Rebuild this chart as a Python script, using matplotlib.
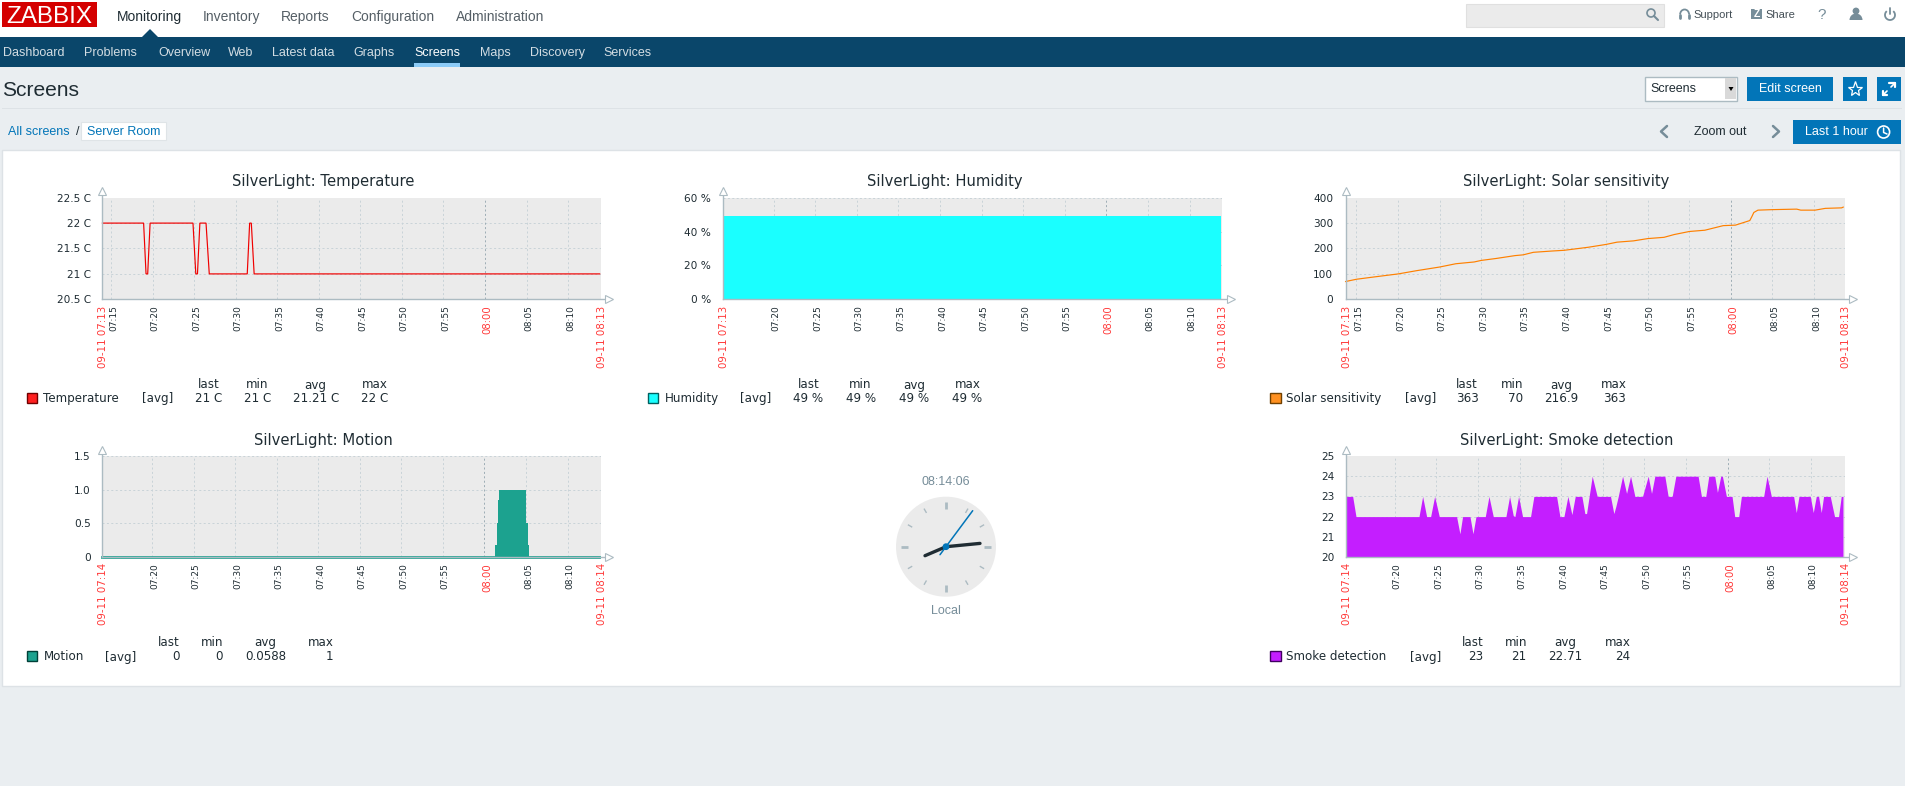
#!/usr/bin/env python
"""Zabbix 'Server Room' screen: page chrome drawn in pixel coords, five graphs + clock."""
import numpy as np
import matplotlib; matplotlib.use('Agg'); import matplotlib.pyplot as plt
from matplotlib.patches import Rectangle, Circle, Polygon, Arc, Wedge

W, H = 1906, 786
UI = 'Liberation Sans'
NAVY, BLUE, BG, GREY, INK = '#0A466A', '#0275B8', '#EAEEF1', '#768D99', '#1F2C33'
AXC, GRIDC, GRID8, PLOTBG, RED = '#ACBBC2', '#C9D3D8', '#9FAEB6', '#EBEBEB', '#FF3A3A'

top_menu = ['Monitoring', 'Inventory', 'Reports', 'Configuration', 'Administration']
top_x = [117, 203, 281, 351, 456]
sub_menu = ['Dashboard', 'Problems', 'Overview', 'Web', 'Latest data', 'Graphs', 'Screens', 'Maps', 'Discovery', 'Services']
sub_x = [2.7, 84, 158, 228, 272, 353.6, 414, 480, 530, 603]

# series: x is elapsed minutes since the left edge of each graph
temp_t = [0, 4.96, 5.25, 5.45, 5.74, 10.9, 11.24, 11.44, 11.73, 12.47, 12.86, 17.43, 17.72, 17.92, 18.26, 59.84]
temp_v = [22, 22, 21, 21, 22, 22, 21, 21, 22, 22, 21, 21, 22, 22, 21, 21]
hum_t = [0, 59.8]
hum_v = [49.3, 49.3]
solar_t = [0, 1.32, 3.19, 6.33, 8.59, 11.29, 13.25, 15.46, 16.29, 18.15, 20.36, 21.34, 22.57, 24.78, 26.3, 29.19, 31.3,
           32.63, 34.6, 36.31, 38.27, 39.5, 41.32, 43.18, 45.39, 46.86, 48.58, 48.82, 49.07, 49.56, 51.28, 54.22, 54.71,
           56.43, 57.65, 59.62, 59.81]
solar_v = [70, 79, 87, 100, 113, 127, 140, 147, 153, 161, 172, 175, 185, 190, 193, 205, 216,
           225, 230, 239, 244, 255, 267, 272, 290, 292, 310, 325, 342, 351, 353, 355, 351,
           351, 358, 360, 363]
motion_t = [0, 47.3, 47.45, 47.55, 47.7, 50.93, 51.03, 51.18, 51.28, 59.81]
motion_v = [0, 0.18, 0.5, 0.84, 1, 0.84, 0.5, 0.18, 0, 0]
smoke_t = [0, 0.85, 1.25, 8.82, 9.26, 9.74, 10.22, 10.7, 11.26, 13.34, 13.74, 14.06, 14.95, 15.31, 15.67, 16.79, 17.23,
           17.75, 19.27, 19.71, 20.15, 20.35, 20.79, 21.27, 22.23, 22.63, 25.36, 25.76, 26.24, 26.72, 27.2, 27.6, 28.4,
           28.76, 28.96, 29.64, 30.24, 31.84, 32.24, 32.48, 32.77, 33.29, 33.77, 34.25, 34.77, 35.69, 36.37, 36.77,
           37.17, 38.37, 38.77, 39.25, 39.69, 42.37, 42.77, 43.29, 43.65, 44.37, 44.69, 45.09, 45.29, 45.77, 46.45,
           46.77, 47.25, 47.57, 50.25, 50.65, 51.17, 53.85, 54.17, 54.49, 55.85, 56.21, 56.57, 56.85, 57.17, 57.45,
           58.25, 58.77, 59.25, 59.57, 59.78]
smoke_v = [23, 23, 22, 22, 23, 22, 22, 23, 22, 22, 21.15, 22, 22, 21.15, 22, 22, 23,
           22, 22, 23, 22.05, 22, 23, 22, 22, 23, 23, 22, 22, 23, 22.1, 23, 23,
           22.15, 22.15, 24, 23, 23, 22.15, 22.5, 23, 24, 23.15, 24, 23, 23, 24, 23.15,
           24, 24, 23, 23, 24, 24, 23, 23, 24, 24, 23.2, 24, 24, 23, 23,
           22, 22, 23, 23, 24, 23, 23, 22.2, 23, 23, 22.2, 23, 23, 22.2, 23,
           23, 22, 22, 23, 23]

clock_ticks = list(range(12))

fig = plt.figure(figsize=(W/100, H/100), dpi=100, facecolor=BG)
bg = fig.add_axes([0, 0, 1, 1]); bg.set_xlim(0, W); bg.set_ylim(H, 0); bg.axis('off')

def box(x0, y0, x1, y1, fc, ec='none', lw=0.8, z=1):
    bg.add_patch(Rectangle((x0, y0), x1-x0, y1-y0, fc=fc, ec=ec, lw=lw, zorder=z))
def txt(x, y, s, size=9, color=INK, family=UI, ha='left', **kw):
    bg.text(x, y+1, s, fontsize=size, color=color, family=family, ha=ha, va='center', zorder=5, **kw)
def seg(xs, ys, color=GREY, lw=1.2, z=5, **kw):
    bg.plot(xs, ys, color=color, lw=lw, zorder=z, solid_capstyle=kw.pop('cap', 'round'), **kw)

# header + nav
box(0, 0, W, 37, 'white')
box(2, 2, 97, 27, '#D40000')
txt(49.5, 16, 'ZABBIX', 17.5, 'white', ha='center')
for i, (s, x) in enumerate(zip(top_menu, top_x)):
    txt(x, 15.7, s, 10, INK if i == 0 else '#555F66')
bg.add_patch(Polygon([[142, 37], [150, 29], [158, 37]], fc=NAVY, ec='none', zorder=2))
box(0, 37, W, 67, NAVY)
for s, x in zip(sub_menu, sub_x):
    txt(x, 51.7, s, 9, 'white' if s == 'Screens' else '#D3DDE3')
box(414, 63, 460, 67, '#8CCBF7', z=2)

# search and user icons
box(1466, 3.5, 1664, 26.5, '#EBEBEB', '#E0E0E0')
bg.add_patch(Circle((1651, 13), 4, fc='none', ec=GREY, lw=1.2, zorder=5))
seg([1654, 1658], [16, 20], lw=1.5)
bg.add_patch(Arc((1684.6, 14.5), 9, 10, theta1=180, theta2=360, ec=GREY, lw=1.3, zorder=5))
seg([1680, 1680], [15, 18], lw=2); seg([1689, 1689], [15, 18], lw=2)
txt(1693.7, 14.5, 'Support', 8, '#444F56')
box(1751, 9, 1762, 19, GREY)
txt(1756.5, 13, 'Z', 7.5, 'white', ha='center', weight='bold')
txt(1765, 14.5, 'Share', 8, '#444F56')
txt(1821.6, 14, '?', 11, GREY, ha='center')
bg.add_patch(Circle((1856, 11), 3.4, fc=GREY, ec='none', zorder=5))
bg.add_patch(Wedge((1856, 20), 6.5, 180, 360, fc=GREY, ec='none', zorder=5))
bg.add_patch(Arc((1890, 15), 10, 10, theta1=-50, theta2=230, ec=GREY, lw=1.3, zorder=5))
seg([1890, 1890], [8, 14], lw=1.3)

# title row
txt(2, 90, 'Screens', 15.1, INK)
box(2, 108, 1902, 108.8, '#DDE2E6')
box(1645, 77, 1737, 100.7, 'white', AXC, 1)
txt(1650, 88, 'Screens', 9, INK)
box(1725, 78, 1736, 99, '#D9D9D9')
bg.add_patch(Polygon([[1728.5, 87], [1733.5, 87], [1731, 91]], fc='black', ec='none', zorder=5))
box(1747, 77, 1833, 100.7, BLUE)
txt(1790, 88, 'Edit screen', 9, 'white', ha='center')
box(1843, 77, 1867, 100.7, BLUE)
bg.plot([1855], [89], marker='*', ms=11, mfc='none', mec='white', mew=0.9, zorder=5)
box(1877, 77, 1901, 100.7, BLUE)
seg([1891, 1895], [87, 83], 'white', 1.2); seg([1889, 1895], [83, 83], 'white', 1.6); seg([1895, 1895], [83, 87], 'white', 1.6)
seg([1887, 1883], [91, 95], 'white', 1.2); seg([1883, 1887], [95, 95], 'white', 1.6); seg([1883, 1883], [91, 95], 'white', 1.6)

# breadcrumbs + time controls
txt(8.5, 130.7, 'All screens', 9, BLUE)
txt(76, 130.7, '/', 9, INK)
box(81, 121.7, 165.6, 140, 'white', '#DFE4E7')
txt(87, 130.7, 'Server Room', 9, BLUE)
seg([1667, 1661, 1667], [126, 131.5, 137], GREY, 1.8)
txt(1720.6, 131, 'Zoom out', 9, INK, ha='center')
seg([1773, 1779, 1773], [126, 131.5, 137], GREY, 1.8)
box(1793, 120, 1901, 144, BLUE)
txt(1805, 131, 'Last 1 hour', 9, 'white')
bg.add_patch(Circle((1883.6, 132), 6, fc='none', ec='white', lw=1.2, zorder=5))
seg([1883.6, 1883.6, 1887], [128, 132.5, 134], 'white', 1.1)

# white panel
box(2, 149.5, 1900, 686, 'white', '#DDE2E6', 1)

def graph(rect, t0, ticks_min, ts, vs, color, yticks, ylabels, ypad, ends, fill=False, step=None, grid_top=False, lw=0.85):
    x0, y0, x1, y1 = rect
    ax = fig.add_axes([x0/W, 1-y1/H, (x1-x0)/W, (y1-y0)/H], facecolor=PLOTBG, zorder=3)
    for s in ax.spines.values(): s.set_visible(False)
    ax.set_xlim(t0, t0+60); ax.set_ylim(yticks[0], yticks[-1])
    ax.set_yticks(yticks, ylabels); ax.set_xticks([])
    ax.tick_params(axis='y', length=0, pad=ypad, labelsize=7.6, labelcolor=INK)
    dash = (0, (2, 2.4))
    gy = yticks[1:] if grid_top else yticks[1:-1]
    for y in gy: ax.plot([t0, t0+60], [y, y], color=GRIDC, lw=0.72, ls=dash, zorder=1)
    for m in ticks_min + [t0+60]:
        ax.plot([m, m], yticks[:1]+yticks[-1:], color=GRID8 if m == 60 else GRIDC, lw=0.72, ls=dash, zorder=1)
    t = t0 + np.array(ts); v = np.array(vs, dtype=float)
    if fill:
        ax.fill_between(t, yticks[0], v, color=color, lw=0, zorder=2, step=step, antialiased=step is None)
    else:
        ax.plot(t, v, color=color, lw=lw, zorder=2, solid_joinstyle='miter', clip_on=False)
    if step: ax.plot([t[0], t[-1]], [yticks[0], yticks[0]], color=color, lw=2, zorder=3, clip_on=False)
    # axis lines with open arrows
    fx, fy = 6/(x1-x0), 4/(y1-y0)
    ax.plot([0, 0], [0, 1+fy], transform=ax.transAxes, color=AXC, lw=1, clip_on=False, zorder=4)
    ax.plot([0, 1+fx], [0, 0], transform=ax.transAxes, color=AXC, lw=1, clip_on=False, zorder=4)
    ax.plot([0], [1+fy+2.5/(y1-y0)], transform=ax.transAxes, marker='^', ms=5.5, mfc='white', mec=AXC, mew=0.8, clip_on=False, zorder=4)
    ax.plot([1+fx+2.5/(x1-x0)], [0], transform=ax.transAxes, marker='>', ms=5.5, mfc='white', mec=AXC, mew=0.8, clip_on=False, zorder=4)
    # rotated time labels
    tf = ax.get_xaxis_transform()
    for m in ticks_min:
        red = m == 60
        s = '%02d:%02d' % (7+m//60, m % 60)
        ax.annotate(s, (m, 0), xycoords=tf, xytext=(2.4, -6), textcoords='offset pixels', rotation=90, ha='center', va='top',
                    fontsize=7.3 if red else 6.5, color=RED if red else INK, annotation_clip=False)
    for m, s in zip((t0, t0+60), ends):
        ax.annotate(s, (m, 0), xycoords=tf, xytext=(1, -6), textcoords='offset pixels', rotation=90, ha='center', va='top',
                    fontsize=7.4, color=RED, annotation_clip=False)
    return ax

def legend(swatch, name_x, avg_x, y_head, y_row, name, color, edge, heads, vals):
    box(swatch, y_row-5, swatch+10.2, y_row+5, color, edge, 1, z=4)
    dj = 'DejaVu Sans'
    txt(name_x, y_row, name, 8.6, INK, dj)
    txt(avg_x, y_row, '[avg]', 8.6, INK, dj)
    for (hx, hs), (vx, vs) in zip(heads, vals):
        txt(hx, y_head, hs, 8.6, INK, dj, ha='right')
        txt(vx, y_row, vs, 8.6, INK, dj, ha='right')

def title(x, y, s):
    txt(x, y, s, 10.6, INK, 'DejaVu Sans', ha='center')

labs = ['last', 'min', 'avg', 'max']
every5 = list(range(20, 75, 5))
with_15 = [15] + every5

graph((102.4, 197.7, 601, 299.3), 13.96, with_15, temp_t, temp_v, '#F00000', [20.5, 21, 21.5, 22, 22.5],
      ['20.5 C', '21 C', '21.5 C', '22 C', '22.5 C'], 8, ['09-11 07:13', '09-11 08:13'])
title(323, 180.7, 'SilverLight: Temperature')
legend(27.3, 42.9, 142, 384, 397.7, 'Temperature', '#FF2020', '#700000',
       list(zip([219.6, 268.6, 326.5, 387.8], labs)), list(zip([222.4, 271, 339.6, 388], ['21 C', '21 C', '21.21 C', '22 C'])))

graph((723.3, 197.7, 1222.4, 299.3), 13.95, every5, hum_t, hum_v, '#1AFFFF', [0, 20, 40, 60],
      ['0 %', '20 %', '40 %', '60 %'], 8.6, ['09-11 07:13', '09-11 08:13'], fill=True, grid_top=True)
title(944.5, 180.7, 'SilverLight: Humidity')
legend(648, 664.5, 740, 384, 397.7, 'Humidity', '#1AFFFF', '#006060',
       list(zip([819.6, 871.8, 924.9, 980.8], labs)), list(zip([822.9, 876, 929, 982], ['49 %', '49 %', '49 %', '49 %'])))

graph((1345.6, 197.7, 1844.8, 299.3), 13.70, with_15, solar_t, solar_v, '#FF8000', [0, 100, 200, 300, 400],
      ['0', '100', '200', '300', '400'], 9, ['09-11 07:13', '09-11 08:13'])
title(1566.6, 180.7, 'SilverLight: Solar sensitivity')
legend(1270.5, 1286.4, 1404.8, 384, 397.7, 'Solar sensitivity', '#FF9020', '#704000',
       list(zip([1478, 1523, 1572, 1626.8], labs)), list(zip([1479, 1523, 1578, 1626], ['363', '70', '216.9', '363'])))

graph((102.4, 456, 601, 557), 14.02, every5, motion_t, motion_v, '#1CA28F', [0, 0.5, 1.0, 1.5],
      ['0', '0.5', '1.0', '1.5'], 8.4, ['09-11 07:14', '09-11 08:14'], fill=True, step='post', grid_top=True)
title(323.5, 439, 'SilverLight: Motion')
legend(27.3, 43.7, 105.3, 641.7, 656, 'Motion', '#1CA28F', '#004038',
       list(zip([179.6, 222.9, 276.3, 333.9], labs)), list(zip([179.6, 222.9, 286.5, 333], ['0', '0', '0.0588', '1'])))

graph((1345.6, 456, 1844.8, 557), 14.09, every5, smoke_t, smoke_v, '#C41EFF', [20, 21, 22, 23, 24, 25],
      ['20', '21', '22', '23', '24', '25'], 8, ['09-11 07:14', '09-11 08:14'], fill=True)
title(1566.6, 439, 'SilverLight: Smoke detection')
legend(1270.5, 1286.4, 1409.7, 641.7, 656, 'Smoke detection', '#C41EFF', '#400060',
       list(zip([1483.6, 1527, 1576, 1630.5], labs)), list(zip([1483.6, 1526.5, 1582, 1630], ['23', '21', '22.71', '24'])))

# clock
cx, cy = 946, 546.7
bg.add_patch(Circle((cx, cy), 50, fc='#EBEBEB', ec='none', zorder=3))
for k in clock_ticks:
    a = np.deg2rad(k*30); major = k % 3 == 0
    r0, r1 = (38, 45) if major else (39, 44)
    seg([cx+r0*np.sin(a), cx+r1*np.sin(a)], [cy-r0*np.cos(a), cy-r1*np.cos(a)], AXC, 2.0 if major else 1.0, cap='butt')
seg([cx-21, cx, cx+34], [cy+9, cy, cy-3.3], '#1F2C33', 2.4)
seg([cx-6, cx+26.7], [cy+8, cy-36], BLUE, 1.1, z=6)
bg.add_patch(Circle((cx, cy), 3.4, fc=BLUE, ec='none', zorder=7))
txt(cx, 481, '08:14:06', 9, GREY, ha='center')
txt(cx, 610.5, 'Local', 9, GREY, ha='center')

plt.savefig('out.png', dpi=100, facecolor=BG)
